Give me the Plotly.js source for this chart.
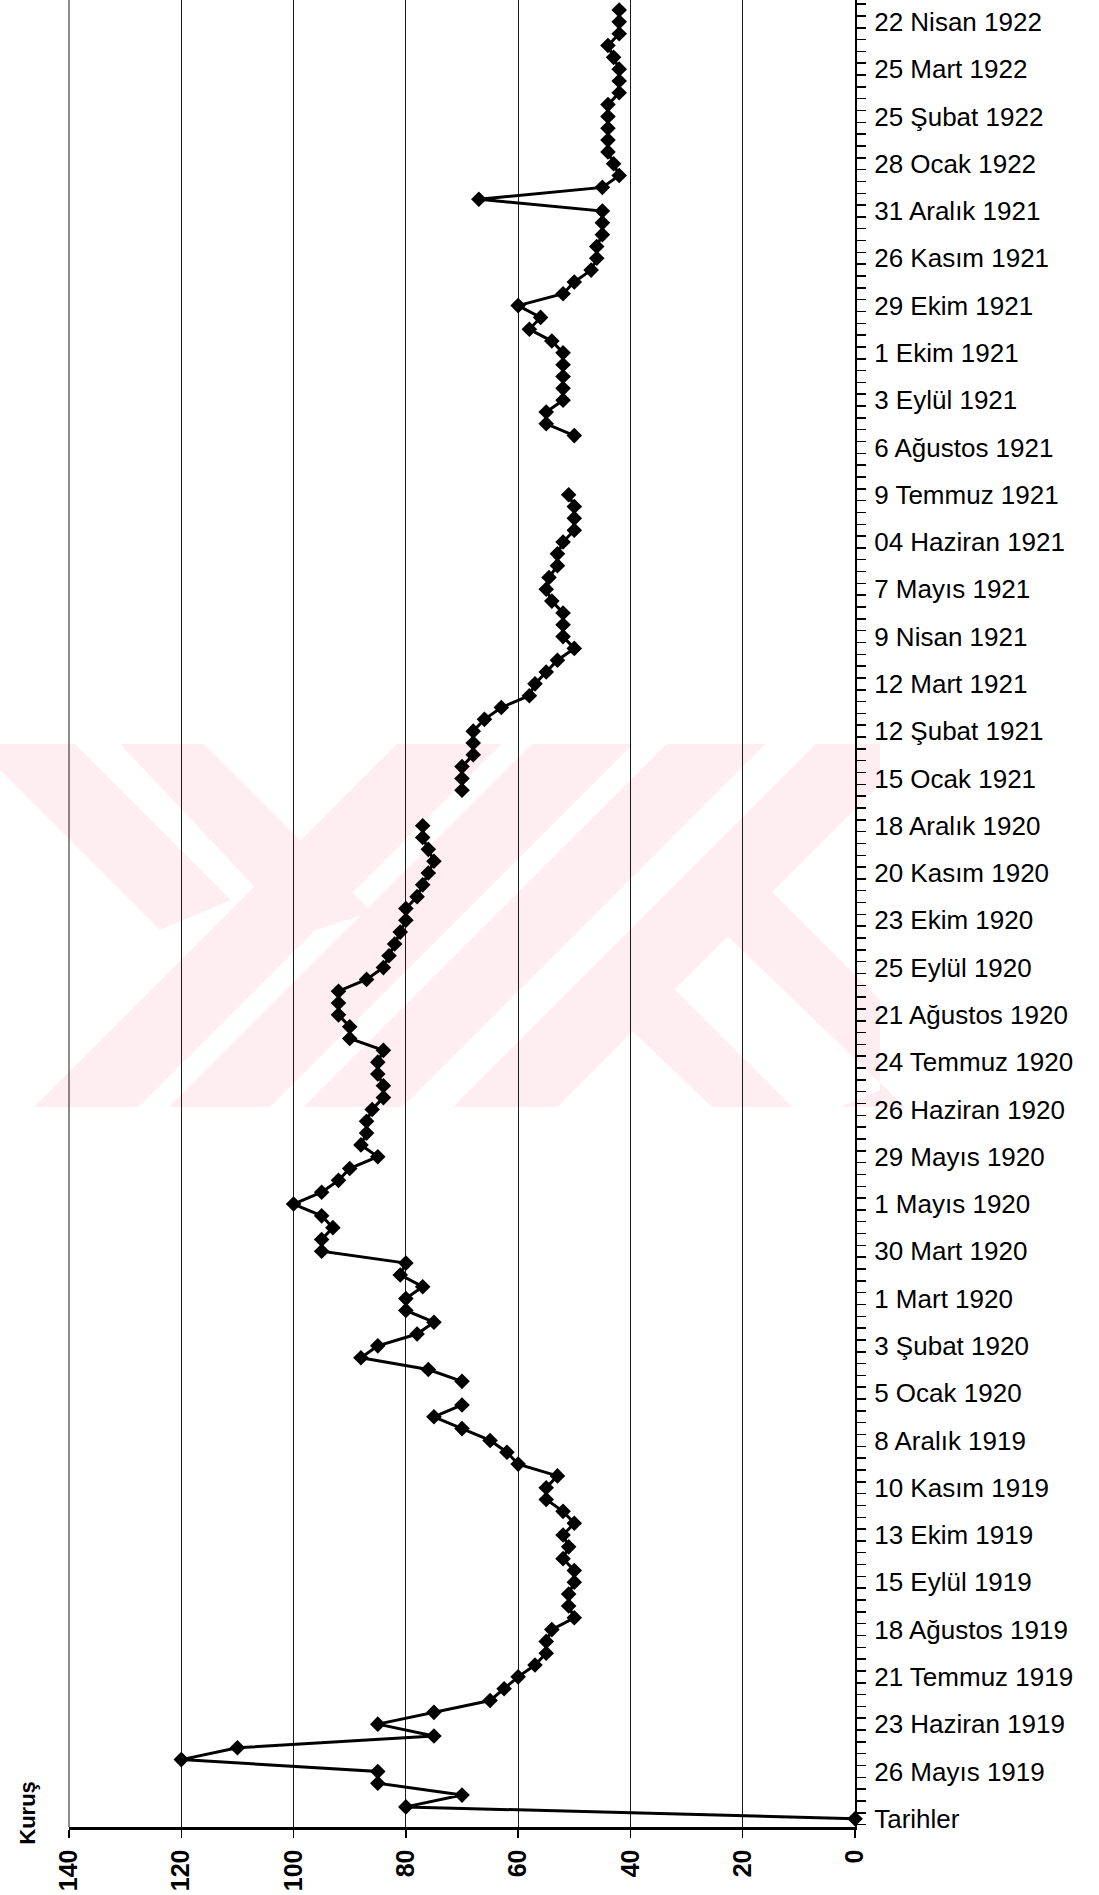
<!DOCTYPE html>
<html>
<head>
<meta charset="utf-8">
<script src="https://cdn.plot.ly/plotly-3.0.1.min.js"></script>
<style>
  html, body { margin: 0; padding: 0; background: #ffffff; }
  #chart { width: 1099px; height: 1895px; }
</style>
</head>
<body>
<div id="chart"></div>
<script>
// Weekly price (Kuruş). Row 0 is the header row "Tarihler" (plotted as 0).
// null = no observation (gap in the line).
const values1919 = [0, 80, 70, 85, 85, 120, 110, 75, 85, 75, 65, 62.5, 60, 57, 55, 55, 54, 50, 51, 51,
  50, 50, 52, 51, 52, 50, 52, 55, 55, 53, 60, 62, 65, 70, 75, 70];
const values1920 = [null, 70, 76, 88, 85, 78, 75, 80, 80, 77, 81, 80, 95, 95, 93, 95, 100, 95, 92, 90,
  85, 88, 87, 87, 86, 84, 84, 85, 85, 84, 90, 90, 92, 92, 92, 87, 84, 83, 82, 81,
  80, 80, 78, 77, 76, 75, 76, 77, 77, null];
const values1921 = [null, 70, 70, 70, 68, 68, 68, 66, 63, 58, 57, 55, 53, 50, 52, 52, 52, 54, 55, 54.5,
  53, 53, 52, 50, 50, 50, 51, null, null, null, null, 50, 55, 55, 52, 52, 52, 52, 52, 54,
  58, 56, 60, 52, 50, 47, 46, 46, 45, 45, 45];
const values1922 = [67, 45, 42, 43, 44, 44, 44, 44, 44, 42, 42, 42, 43, 44, 42, 42, 42];

// Category labels shown on the axis (every 4th row).
const tickLabels = ["Tarihler", "26 Mayıs 1919", "23 Haziran 1919", "21 Temmuz 1919", "18 Ağustos 1919",
  "15 Eylül 1919", "13 Ekim 1919", "10 Kasım 1919", "8 Aralık 1919", "5 Ocak 1920", "3 Şubat 1920",
  "1 Mart 1920", "30 Mart 1920", "1 Mayıs 1920", "29 Mayıs 1920", "26 Haziran 1920", "24 Temmuz 1920",
  "21 Ağustos 1920", "25 Eylül 1920", "23 Ekim 1920", "20 Kasım 1920", "18 Aralık 1920", "15 Ocak 1921",
  "12 Şubat 1921", "12 Mart 1921", "9 Nisan 1921", "7 Mayıs 1921", "04 Haziran 1921", "9 Temmuz 1921",
  "6 Ağustos 1921", "3 Eylül 1921", "1 Ekim 1921", "29 Ekim 1921", "26 Kasım 1921", "31 Aralık 1921",
  "28 Ocak 1922", "25 Şubat 1922", "25 Mart 1922", "22 Nisan 1922"];
const labelEvery = 4;
const axisTitle = "Kuruş";

const values = values1919.concat(values1920, values1921, values1922);
const rows = values.map((v, i) => i);
const tickRows = tickLabels.map((t, i) => i * labelEvery);

const font = "'Liberation Sans', Arial, Helvetica, sans-serif";

// ---- page geometry (pixels) ----
const W = 1099, H = 1895;
const M = { l: 69, r: 244, t: 0, b: 68 };
const PW = W - M.l - M.r, PH = H - M.t - M.b;
const px2paper = (x, y) => [(x - M.l) / PW, (H - M.b - y) / PH];

// faint pink scanned watermark (decorative), polygons in page pixels
const wmColor = 'rgb(254,237,241)';
const wmTop = 744, wmBot = 1107;
const wmPolys = [
  // "/" stripes
  [[34, wmBot], [138, wmBot], [501, wmTop], [397, wmTop]],
  [[169, wmBot], [270, wmBot], [633, wmTop], [532, wmTop]],
  [[304, wmBot], [402, wmBot], [765, wmTop], [667, wmTop]],
  [[453, wmBot], [557, wmBot], [880, wmBot - 323], [880, wmTop], [816, wmTop]],
  // "\" stripes, upper left
  [[0, wmTop], [75, wmTop], [231, 900], [160, 930], [0, 770]],
  [[120, wmTop], [204, wmTop], [372, 912], [300, 935]],
  // "\" stripes, lower right
  [[690, 900], [770, 890], [880, 1000], [880, 1090], [840, wmBot], [905, wmBot]],
  [[600, 1000], [660, 975], [792, wmBot], [712, wmBot]]
];
const wmShapes = wmPolys.map(poly => {
  const pts = poly.map(p => px2paper(p[0], p[1]));
  const path = 'M' + pts.map(p => p[0].toFixed(4) + ',' + p[1].toFixed(4)).join('L') + 'Z';
  return { type: 'path', xref: 'paper', yref: 'paper', path: path,
           fillcolor: wmColor, line: { width: 0 }, layer: 'below' };
});

const trace = {
  type: 'scatter',
  mode: 'lines+markers',
  x: values,
  y: rows,
  connectgaps: false,
  cliponaxis: false,
  line: { color: '#000000', width: 3 },
  marker: { symbol: 'diamond', size: 12, color: '#000000', line: { width: 0 } },
  hoverinfo: 'x+y'
};

const layout = {
  width: W,
  height: H,
  margin: { l: M.l, r: M.r, t: M.t, b: M.b, pad: 0 },
  paper_bgcolor: '#ffffff',
  plot_bgcolor: 'rgba(0,0,0,0)',
  showlegend: false,
  font: { family: font, color: '#000000' },
  xaxis: {
    range: [140, 0],
    tick0: 0,
    dtick: 20,
    showgrid: true,
    gridcolor: '#1a1a1a',
    gridwidth: 1,
    zeroline: false,
    showline: true,
    linecolor: '#000000',
    linewidth: 2.5,
    mirror: true,
    ticks: 'outside',
    ticklen: 8,
    tickwidth: 1.5,
    tickcolor: '#000000',
    tickangle: -90,
    ticklabelstandoff: 2,
    tickfont: { family: font, size: 25, color: '#000000', weight: 'bold' },
    fixedrange: true
  },
  yaxis: {
    range: [-0.7, 153.85],
    side: 'right',
    tickmode: 'array',
    tickvals: tickRows,
    ticktext: tickLabels,
    showgrid: false,
    zeroline: false,
    showline: true,
    linecolor: '#000000',
    linewidth: 2,
    ticks: 'outside',
    ticklen: 9,
    tickcolor: 'rgba(0,0,0,0)',
    ticklabelstandoff: 3,
    tickfont: { family: font, size: 26, color: '#000000' },
    minor: { tickmode: 'linear', tick0: 0.5, dtick: 1, ticks: 'outside', ticklen: 9, tickwidth: 1.5, tickcolor: '#000000', showgrid: false },
    fixedrange: true
  },
  shapes: wmShapes.concat([{
    // left plot edge (drawn like a grid line in the original)
    type: 'line', xref: 'paper', yref: 'paper', x0: 0, x1: 0, y0: 0, y1: 1,
    line: { color: '#1a1a1a', width: 1 }, layer: 'above'
  }]),
  annotations: [{
    text: '<b>' + axisTitle + '</b>',
    xref: 'paper', yref: 'paper',
    x: -0.053, y: 0.008,
    xanchor: 'center', yanchor: 'middle',
    textangle: -90,
    showarrow: false,
    font: { family: font, size: 22, color: '#000000' }
  }]
};

Plotly.newPlot('chart', [trace], layout, { staticPlot: true, displayModeBar: false });
</script>
</body>
</html>
